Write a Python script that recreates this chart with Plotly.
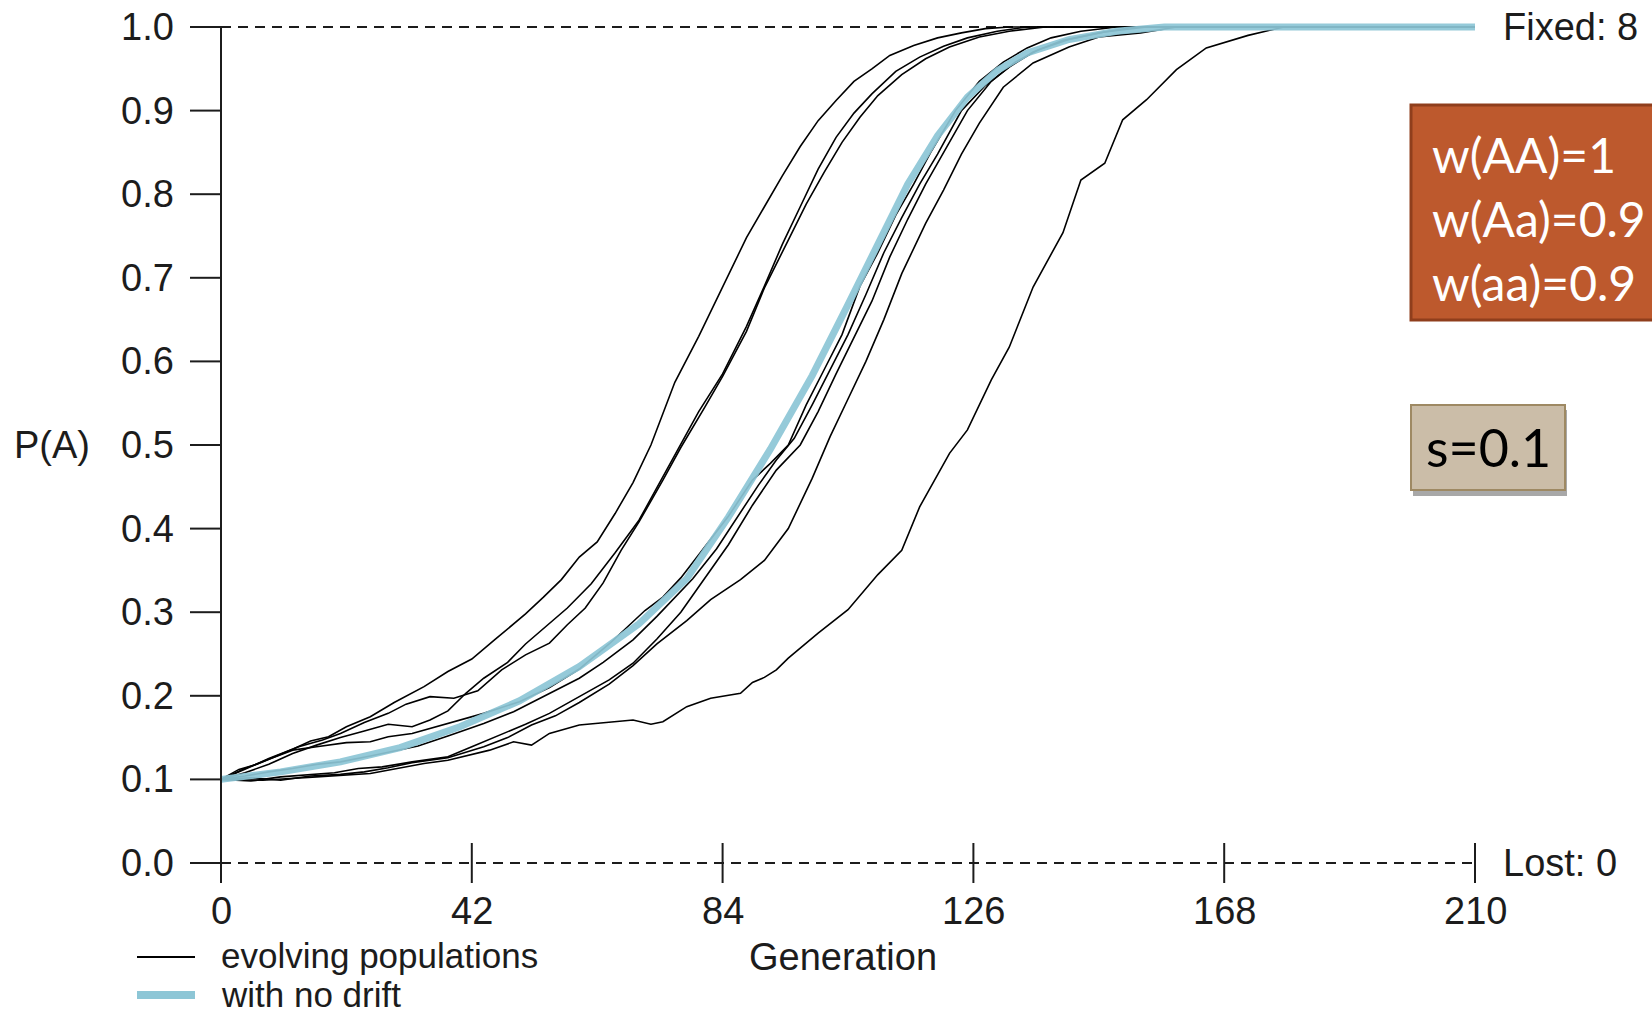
import plotly.graph_objects as go

# ---------------------------------------------------------------- data
GEN_TICKS = [0, 42, 84, 126, 168, 210]
P_TICKS = [0.0, 0.1, 0.2, 0.3, 0.4, 0.5, 0.6, 0.7, 0.8, 0.9, 1.0]

# deterministic trajectory (no drift)
GEN_NO_DRIFT = [0, 10, 20, 30, 40, 50, 60, 70, 78, 85, 92, 99, 105, 110, 115,
                120, 125, 130, 135, 142, 150, 158, 210]
P_NO_DRIFT = [0.100, 0.109, 0.121, 0.138, 0.163, 0.194, 0.235, 0.286, 0.340,
              0.414, 0.495, 0.583, 0.668, 0.742, 0.812, 0.870, 0.916, 0.948,
              0.969, 0.985, 0.995, 1.0, 1.0]

# eight simulated populations
GEN_POP1 = [0, 3, 6, 9, 12, 15, 18, 21, 25, 29, 34, 38, 42, 46, 51, 54, 57, 60,
            63, 66, 69, 72, 76, 80, 84, 88, 91, 94, 97, 100, 103, 106, 109, 112,
            116, 120, 124, 128, 132, 210]
P_POP1 = [0.100, 0.112, 0.118, 0.127, 0.136, 0.146, 0.151, 0.163, 0.175, 0.192,
          0.211, 0.229, 0.244, 0.268, 0.298, 0.318, 0.339, 0.366, 0.384, 0.418,
          0.455, 0.500, 0.575, 0.630, 0.690, 0.748, 0.785, 0.822, 0.857, 0.888,
          0.912, 0.935, 0.950, 0.966, 0.978, 0.987, 0.993, 0.998, 1.0, 1.0]

GEN_POP2 = [0, 4, 8, 12, 16, 20, 24, 28, 32, 35, 38, 41, 44, 48, 51, 55, 58, 62,
            66, 70, 74, 77, 80, 84, 88, 91, 94, 97, 100, 103, 106, 109, 113, 117,
            121, 125, 130, 135, 210]
P_POP2 = [0.100, 0.108, 0.118, 0.131, 0.141, 0.150, 0.158, 0.166, 0.163, 0.171,
          0.182, 0.203, 0.221, 0.240, 0.262, 0.287, 0.305, 0.334, 0.371, 0.410,
          0.462, 0.500, 0.540, 0.585, 0.642, 0.690, 0.740, 0.785, 0.830, 0.868,
          0.897, 0.920, 0.947, 0.964, 0.977, 0.987, 0.995, 1.0, 1.0]

GEN_POP3 = [0, 4, 8, 13, 17, 20, 24, 28, 31, 35, 39, 43, 47, 51, 55, 58, 61, 64,
            67, 70, 74, 77, 81, 84, 88, 91, 95, 98, 101, 104, 107, 110, 114, 118,
            122, 127, 132, 138, 210]
P_POP3 = [0.100, 0.112, 0.125, 0.139, 0.147, 0.155, 0.168, 0.179, 0.190, 0.199,
          0.197, 0.206, 0.231, 0.249, 0.263, 0.285, 0.305, 0.335, 0.374, 0.408,
          0.458, 0.497, 0.545, 0.582, 0.636, 0.688, 0.745, 0.788, 0.826, 0.862,
          0.892, 0.918, 0.943, 0.962, 0.976, 0.988, 0.995, 1.0, 1.0]

GEN_POP4 = [0, 4, 8, 12, 16, 21, 25, 28, 32, 38, 44, 50, 55, 60, 65, 71, 74, 77,
            81, 85, 89, 92, 95, 98, 101, 104, 107, 110, 113, 116, 119, 123, 127,
            131, 135, 139, 144, 150, 210]
P_POP4 = [0.100, 0.113, 0.124, 0.135, 0.139, 0.144, 0.145, 0.151, 0.155, 0.167,
          0.179, 0.193, 0.210, 0.232, 0.262, 0.302, 0.318, 0.341, 0.378, 0.415,
          0.458, 0.478, 0.500, 0.548, 0.590, 0.632, 0.690, 0.730, 0.775, 0.812,
          0.852, 0.900, 0.935, 0.958, 0.975, 0.987, 0.995, 1.0, 1.0]

GEN_POP5 = [0, 4, 8, 12, 16, 20, 25, 29, 33, 38, 44, 49, 55, 60, 64, 69, 73, 76,
            79, 83, 87, 90, 93, 96, 99, 102, 105, 108, 111, 114, 117, 120, 124,
            128, 132, 136, 141, 147, 153, 210]
P_POP5 = [0.100, 0.104, 0.109, 0.113, 0.118, 0.121, 0.128, 0.134, 0.140, 0.152,
          0.167, 0.181, 0.203, 0.221, 0.240, 0.267, 0.295, 0.318, 0.340, 0.376,
          0.420, 0.452, 0.482, 0.508, 0.548, 0.590, 0.632, 0.680, 0.730, 0.772,
          0.812, 0.848, 0.900, 0.930, 0.952, 0.970, 0.984, 0.993, 1.0, 1.0]

GEN_POP6 = [0, 5, 10, 15, 19, 23, 27, 32, 38, 42, 46, 51, 55, 60, 65, 69, 73, 77,
            81, 85, 89, 93, 97, 100, 103, 106, 109, 112, 115, 118, 121, 125, 129,
            133, 137, 142, 148, 155, 210]
P_POP6 = [0.100, 0.098, 0.103, 0.106, 0.108, 0.113, 0.115, 0.121, 0.127, 0.139,
          0.151, 0.166, 0.179, 0.199, 0.219, 0.239, 0.268, 0.300, 0.340, 0.381,
          0.428, 0.470, 0.500, 0.540, 0.585, 0.628, 0.672, 0.725, 0.770, 0.812,
          0.850, 0.900, 0.935, 0.958, 0.973, 0.985, 0.994, 1.0, 1.0]

GEN_POP7 = [0, 5, 10, 15, 20, 24, 28, 32, 38, 44, 48, 52, 56, 60, 65, 69, 73, 78,
            82, 87, 91, 95, 99, 102, 105, 108, 111, 114, 118, 121, 124, 127, 131,
            136, 142, 147, 154, 160, 210]
P_POP7 = [0.100, 0.102, 0.099, 0.104, 0.106, 0.109, 0.114, 0.120, 0.126, 0.139,
          0.150, 0.165, 0.176, 0.192, 0.214, 0.236, 0.262, 0.290, 0.315, 0.339,
          0.362, 0.400, 0.460, 0.510, 0.555, 0.600, 0.650, 0.705, 0.765, 0.805,
          0.848, 0.885, 0.928, 0.957, 0.976, 0.988, 0.993, 1.0, 1.0]

GEN_POP8 = [0, 7, 16, 25, 34, 38, 45, 49, 52, 55, 60, 64, 69, 72, 74, 78, 82, 87,
            89, 91, 93, 95, 100, 105, 110, 114, 117, 122, 125, 129, 132, 136, 141,
            144, 148, 151, 155, 160, 165, 172, 178, 210]
P_POP8 = [0.100, 0.099, 0.103, 0.107, 0.119, 0.123, 0.135, 0.145, 0.141, 0.155,
          0.165, 0.168, 0.171, 0.166, 0.169, 0.187, 0.197, 0.203, 0.216, 0.222,
          0.231, 0.245, 0.275, 0.303, 0.345, 0.374, 0.426, 0.490, 0.518, 0.578,
          0.617, 0.689, 0.754, 0.817, 0.837, 0.889, 0.913, 0.949, 0.975, 0.990,
          1.0, 1.0]

POPULATIONS = [
    (GEN_POP1, P_POP1), (GEN_POP2, P_POP2), (GEN_POP3, P_POP3), (GEN_POP4, P_POP4),
    (GEN_POP5, P_POP5), (GEN_POP6, P_POP6), (GEN_POP7, P_POP7), (GEN_POP8, P_POP8),
]

FIXED_COUNT = 8
LOST_COUNT = 0
FITNESS_LINES = ["w(AA)=1", "w(Aa)=0.9", "w(aa)=0.9"]
SELECTION_TEXT = "s=0.1"

# ---------------------------------------------------------------- geometry
W, H = 1652, 1015
X0_PX, X1_PX = 221, 1475      # generation 0 .. 210
Y1_PX, Y0_PX = 27, 863        # P(A) 1.0 .. 0.0
GEN_MAX = 210
PPG = (X1_PX - X0_PX) / GEN_MAX   # pixels per generation
PPP = (Y0_PX - Y1_PX) / 1.0       # pixels per unit of P(A)
X_RANGE = [-X0_PX / PPG, GEN_MAX + (W - X1_PX) / PPG]
Y_RANGE = [-(H - Y0_PX) / PPP, 1 + Y1_PX / PPP]


def gx(px):
    return X_RANGE[0] + px / PPG


def gy(py):
    return Y_RANGE[1] - py / PPP


INK = "#1c1c1c"
CYAN = "#8dc6d6"
TXT_FONT = "Liberation Sans, Arial, sans-serif"
BOX_FONT = "Lato, Carlito, Calibri, sans-serif"

fig = go.Figure()

for gens, ps in POPULATIONS:
    fig.add_trace(go.Scatter(x=gens, y=ps, mode="lines",
                             line=dict(color="#000000", width=1.6),
                             hoverinfo="skip", showlegend=False))

fig.add_trace(go.Scatter(x=GEN_NO_DRIFT, y=P_NO_DRIFT, mode="lines",
                         line=dict(color=CYAN, width=7),
                         opacity=0.92, hoverinfo="skip", showlegend=False))

shapes = []
tick_half = 20 / PPP
# dashed frame lines for fixation and loss
for level in (0.0, 1.0):
    shapes.append(dict(type="line", xref="x", yref="y", x0=0, x1=GEN_MAX,
                       y0=level, y1=level, layer="below",
                       line=dict(color=INK, width=2, dash="10px,7px")))
# vertical axis
shapes.append(dict(type="line", xref="x", yref="y", x0=0, x1=0,
                   y0=-tick_half, y1=1.0, line=dict(color=INK, width=2)))
# y ticks
for v in P_TICKS:
    shapes.append(dict(type="line", xref="x", yref="y", x0=-31 / PPG, x1=0,
                       y0=v, y1=v, line=dict(color=INK, width=2)))
# x ticks crossing the baseline
for t in GEN_TICKS[1:]:
    shapes.append(dict(type="line", xref="x", yref="y", x0=t, x1=t,
                       y0=-tick_half, y1=tick_half,
                       line=dict(color=INK, width=2)))

# legend samples
shapes.append(dict(type="line", xref="x", yref="y", x0=gx(137), x1=gx(195),
                   y0=gy(957), y1=gy(957), line=dict(color="#000000", width=2)))
shapes.append(dict(type="line", xref="x", yref="y", x0=gx(137), x1=gx(195),
                   y0=gy(995), y1=gy(995), line=dict(color=CYAN, width=8)))

# fitness box
shapes.append(dict(type="rect", xref="x", yref="y", x0=gx(1411), x1=gx(1700),
                   y0=gy(320), y1=gy(105), fillcolor="#bd592d",
                   line=dict(color="#8f3e1c", width=3)))
# selection box with drop shadow
shapes.append(dict(type="rect", xref="x", yref="y", x0=gx(1413), x1=gx(1567),
                   y0=gy(496), y1=gy(410), fillcolor="#a8a8a8",
                   line=dict(width=0)))
shapes.append(dict(type="rect", xref="x", yref="y", x0=gx(1411), x1=gx(1565),
                   y0=gy(490), y1=gy(405), fillcolor="#cbbda8",
                   line=dict(color="#9e8963", width=2)))

ann = []


def label(text, x, y, xanchor="center", size=38, color=INK, family=TXT_FONT):
    ann.append(dict(text=text, x=x, y=y, xref="x", yref="y", xanchor=xanchor,
                    yanchor="middle", showarrow=False,
                    font=dict(family=family, size=size, color=color)))


for v in P_TICKS:
    label(f"{v:.1f}", gx(176), v, xanchor="right")
for t in GEN_TICKS:
    label(str(t), t, gy(911))

label("P(A)", gx(52), 0.5)
label("Generation", gx(843), gy(957))
label(f"Fixed: {FIXED_COUNT}", gx(1501), 1.0, xanchor="left")
label(f"Lost: {LOST_COUNT}", gx(1501), 0.0, xanchor="left")
label("evolving populations", gx(219), gy(955), xanchor="left", size=35)
label("with no drift", gx(219), gy(994), xanchor="left", size=35)

for i, line in enumerate(FITNESS_LINES):
    label(line, gx(1430), gy(154 + 64 * i), xanchor="left", size=48,
          color="#ffffff", family=BOX_FONT)
label(SELECTION_TEXT, gx(1488), gy(447), size=52, color="#000000",
      family=BOX_FONT)

fig.update_layout(
    width=W, height=H,
    margin=dict(l=0, r=0, t=0, b=0),
    paper_bgcolor="white", plot_bgcolor="white",
    xaxis=dict(range=X_RANGE, visible=False, fixedrange=True),
    yaxis=dict(range=Y_RANGE, visible=False, fixedrange=True),
    shapes=shapes, annotations=ann, showlegend=False,
)

fig.write_html("out.html", config=dict(displayModeBar=False))
